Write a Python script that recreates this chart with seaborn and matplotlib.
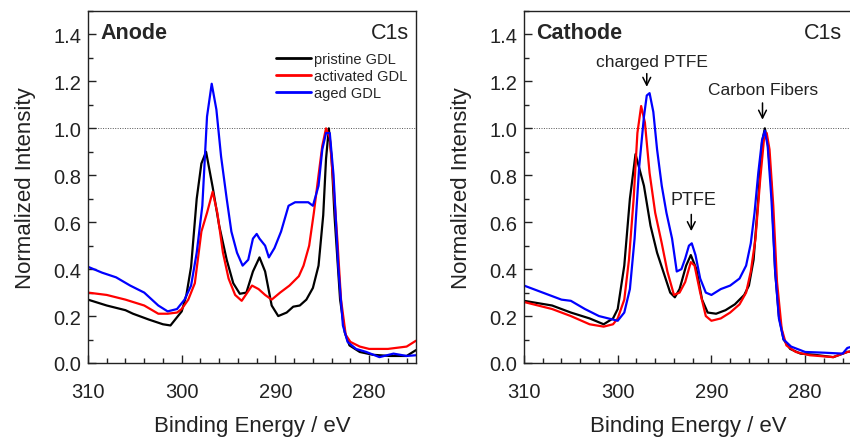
import numpy as np
import pandas as pd
import matplotlib
matplotlib.use("Agg")
import matplotlib.pyplot as plt
from matplotlib.ticker import MultipleLocator
import seaborn as sns

# ---------------- data ----------------
series_names = ["pristine GDL", "activated GDL", "aged GDL"]
series_colors = ["#000000", "#ff0000", "#0000ff"]

# Anode panel
anode_pristine_E = [310, 308, 306, 305.2, 303.5, 302, 301.2, 300.6, 300, 299.5, 299, 298.4, 297.9, 297.4,
                    296.7, 296, 295.2, 294.5, 293.8, 293.1, 292.4, 291.7, 291.1, 290.4, 289.7, 288.8, 288.1,
                    287.4, 286.7, 286, 285.4, 284.9, 284.6, 284.3, 284.0, 283.7, 283.1, 282.6, 282.1, 281,
                    279.6, 277.8, 276, 275]
anode_pristine_I = [0.27, 0.245, 0.225, 0.21, 0.185, 0.165, 0.16, 0.19, 0.22, 0.29, 0.41, 0.70, 0.85, 0.90,
                    0.75, 0.585, 0.44, 0.34, 0.295, 0.30, 0.39, 0.45, 0.39, 0.245, 0.20, 0.215, 0.24,
                    0.245, 0.27, 0.32, 0.415, 0.63, 0.87, 1.0, 0.87, 0.63, 0.27, 0.13, 0.075, 0.047,
                    0.035, 0.03, 0.03, 0.055]

anode_activated_E = [310, 308, 306, 304, 302.5, 301.5, 300.5, 300, 299.3, 298.6, 297.9, 297.3, 296.7, 296.2,
                     295.6, 295, 294.3, 293.6, 293, 292.5, 291.8, 291.1, 290.4, 289.5, 288.5, 287.5, 287,
                     286.4, 285.9, 285.4, 285, 284.6, 284.2, 283.8, 283.4, 283, 282.5, 282, 281, 280, 278,
                     276, 275]
anode_activated_I = [0.30, 0.29, 0.27, 0.245, 0.21, 0.21, 0.215, 0.23, 0.27, 0.34, 0.56, 0.64, 0.73, 0.64,
                     0.47, 0.36, 0.29, 0.265, 0.30, 0.33, 0.315, 0.29, 0.27, 0.30, 0.33, 0.37, 0.415,
                     0.50, 0.64, 0.80, 0.925, 1.0, 0.96, 0.755, 0.53, 0.27, 0.12, 0.09, 0.07, 0.06, 0.06,
                     0.07, 0.095]

anode_aged_E = [310, 308.5, 307, 305.5, 304, 302.5, 301.5, 300.5, 299.7, 299, 298.4, 297.8, 297.3, 296.8,
                296.3, 295.8, 295.2, 294.7, 294.1, 293.5, 292.9, 292.4, 292.0, 291.7, 291.1, 290.7, 290.1,
                289.4, 288.6, 287.9, 287.2, 286.5, 286, 285.4, 285, 284.6, 284.2, 283.8, 283.3, 282.8,
                282.3, 281.4, 280.3, 278.9, 277.4, 276, 275]
anode_aged_I = [0.41, 0.385, 0.365, 0.33, 0.30, 0.245, 0.22, 0.23, 0.27, 0.33, 0.47, 0.67, 1.05, 1.19,
                1.08, 0.88, 0.70, 0.56, 0.47, 0.415, 0.44, 0.53, 0.55, 0.53, 0.50, 0.45, 0.49,
                0.56, 0.67, 0.685, 0.685, 0.685, 0.67, 0.755, 0.91, 0.98, 0.98, 0.80, 0.415, 0.16,
                0.09, 0.06, 0.047, 0.025, 0.04, 0.03, 0.033]

# Cathode panel
cathode_pristine_E = [310, 307, 305, 303, 301.5, 300.5, 300, 299.3, 298.7, 298.1, 297.5, 297.2, 296.5, 295.8,
                      295.1, 294.4, 293.9, 293.4, 292.7, 292.2, 291.6, 291, 290.4, 289.5, 288.5, 287.5,
                      286.5, 286, 285.5, 285, 284.6, 284.3, 284, 283.6, 283.2, 282.8, 282.3, 281.6, 280.5,
                      279, 277, 275.5, 275]
cathode_pristine_I = [0.265, 0.245, 0.215, 0.19, 0.165, 0.19, 0.23, 0.415, 0.70, 0.89, 0.80, 0.755, 0.585,
                      0.47, 0.385, 0.30, 0.28, 0.315, 0.415, 0.46, 0.40, 0.27, 0.215, 0.21, 0.225, 0.25,
                      0.29, 0.33, 0.44, 0.70, 0.94, 1.0, 0.94, 0.755, 0.39, 0.20, 0.10, 0.06, 0.04,
                      0.035, 0.025, 0.047, 0.05]

cathode_activated_E = [310, 307, 305, 303, 301.5, 300.5, 300, 299.3, 298.8, 298.3, 297.9, 297.5, 297.1,
                       296.6, 296, 295.3, 294.7, 294, 293.4, 292.8, 292.2, 291.8, 291.2, 290.6, 290, 289,
                       288, 287, 286.3, 285.8, 285.3, 284.8, 284.4, 284.1, 283.8, 283.4, 283, 282.5, 282,
                       281, 279.5, 277, 275.5, 275]
cathode_activated_I = [0.26, 0.23, 0.20, 0.165, 0.155, 0.165, 0.19, 0.27, 0.44, 0.70, 0.98, 1.095, 1.025,
                       0.81, 0.64, 0.51, 0.39, 0.29, 0.30, 0.345, 0.43, 0.415, 0.30, 0.20, 0.18, 0.19,
                       0.215, 0.25, 0.30, 0.39, 0.53, 0.78, 0.95, 0.98, 0.91, 0.67, 0.345, 0.145, 0.075,
                       0.047, 0.033, 0.025, 0.047, 0.05]

cathode_aged_E = [310, 308, 306, 305, 303.5, 302, 301, 300, 299.3, 298.7, 298.2, 297.7, 297.2, 296.9, 296.6,
                  296.2, 295.8, 295.3, 294.8, 294.2, 293.7, 293.2, 292.8, 292.4, 292.1, 291.7, 291.2, 290.6,
                  290, 289, 288, 287, 286.3, 285.8, 285.4, 285, 284.6, 284.3, 284, 283.6, 283.2, 282.8,
                  282.3, 281.5, 280, 278, 276, 275.5, 275]
cathode_aged_I = [0.33, 0.30, 0.27, 0.265, 0.23, 0.20, 0.19, 0.18, 0.215, 0.315, 0.53, 0.84, 1.05, 1.14, 1.15,
                  1.07, 0.91, 0.755, 0.64, 0.53, 0.39, 0.40, 0.445, 0.50, 0.51, 0.46, 0.36, 0.30,
                  0.29, 0.315, 0.33, 0.36, 0.415, 0.51, 0.64, 0.81, 0.95, 0.99, 0.925, 0.70, 0.39, 0.19,
                  0.10, 0.07, 0.047, 0.044, 0.04, 0.064, 0.07]

x_ticks = [310, 300, 290, 280]
y_ticks = [0.0, 0.2, 0.4, 0.6, 0.8, 1.0, 1.2, 1.4]

panel_titles = ["Anode", "Cathode"]
core_level = "C1s"


def long_frame(E_lists, I_lists):
    frames = []
    for name, E, I in zip(series_names, E_lists, I_lists):
        frames.append(pd.DataFrame({"E": E, "I": I, "sample": name}))
    return pd.concat(frames, ignore_index=True)


anode_df = long_frame([anode_pristine_E, anode_activated_E, anode_aged_E],
                      [anode_pristine_I, anode_activated_I, anode_aged_I])
cathode_df = long_frame([cathode_pristine_E, cathode_activated_E, cathode_aged_E],
                        [cathode_pristine_I, cathode_activated_I, cathode_aged_I])

# ---------------- style ----------------
sns.set_theme(style="ticks")
plt.rcParams["font.family"] = ["Liberation Sans", "DejaVu Sans"]
plt.rcParams["axes.edgecolor"] = "#222222"
plt.rcParams["axes.linewidth"] = 1.0

fig = plt.figure(figsize=(8.5, 4.39), dpi=100)
ax_a = fig.add_axes([88 / 850, 75 / 439, 328 / 850, 352 / 439])
ax_c = fig.add_axes([524 / 850, 75 / 439, 328 / 850, 352 / 439])

palette = dict(zip(series_names, series_colors))

for ax, df, title in [(ax_a, anode_df, panel_titles[0]), (ax_c, cathode_df, panel_titles[1])]:
    sns.lineplot(data=df, x="E", y="I", hue="sample", palette=palette, sort=False,
                 estimator=None, linewidth=1.6, ax=ax, legend=False)
    ax.axhline(1.0, color="#555555", linestyle=(0, (1, 1.5)), linewidth=0.7, zorder=0)
    ax.set_xlim(310, 275)
    ax.set_ylim(0, 1.5)
    ax.set_xticks(x_ticks)
    ax.set_yticks(y_ticks)
    ax.set_yticklabels([f"{v:.1f}" for v in y_ticks])
    ax.xaxis.set_minor_locator(MultipleLocator(2))
    ax.yaxis.set_minor_locator(MultipleLocator(0.1))
    ax.tick_params(which="major", direction="in", length=6, width=1.0, labelsize=14.5,
                   top=False, right=False, color="#222222", labelcolor="#222222")
    ax.tick_params(which="minor", direction="in", length=3.5, width=1.0,
                   top=False, right=False, color="#222222")
    ax.tick_params(axis="x", pad=14)
    ax.tick_params(axis="y", pad=5)
    for s in ax.spines.values():
        s.set_visible(True)
        s.set_linewidth(1.0)
    ax.set_xlabel("Binding Energy / eV", fontsize=16, labelpad=10, color="#222222")
    ax.set_ylabel("Normalized Intensity", fontsize=16, labelpad=12, color="#222222")
    ax.text(308.7, 1.41, title, fontsize=15.5, fontweight="bold", ha="left", va="center")

ax_a.text(275.8, 1.41, core_level, fontsize=15.5, ha="right", va="center", color="#222222")
ax_c.text(276.1, 1.41, core_level, fontsize=15.5, ha="right", va="center", color="#222222")

# legend (anode panel)
handles = [plt.Line2D([], [], color=c, linewidth=2.0) for c in series_colors]
ax_a.legend(handles, series_names, loc="upper right", bbox_to_anchor=(0.99, 0.9),
            frameon=False, fontsize=10.5, handlelength=2.4, handletextpad=0.15,
            labelspacing=0.22, borderaxespad=0.0)

# annotations (cathode panel)
arrow = dict(arrowstyle="->", color="black", lw=1.1, mutation_scale=14)
ax_c.annotate("", xy=(296.9, 1.165), xytext=(296.9, 1.245), arrowprops=arrow)
ax_c.text(296.3, 1.285, "charged PTFE", fontsize=12.5, ha="center", va="center", color="#222222")
ax_c.annotate("", xy=(284.55, 1.025), xytext=(284.55, 1.12), arrowprops=arrow)
ax_c.text(284.5, 1.165, "Carbon Fibers", fontsize=12.5, ha="center", va="center", color="#222222")
ax_c.annotate("", xy=(292.15, 0.55), xytext=(292.15, 0.645), arrowprops=arrow)
ax_c.text(291.9, 0.695, "PTFE", fontsize=13, ha="center", va="center", color="#222222")

fig.savefig("out.png", dpi=100)
